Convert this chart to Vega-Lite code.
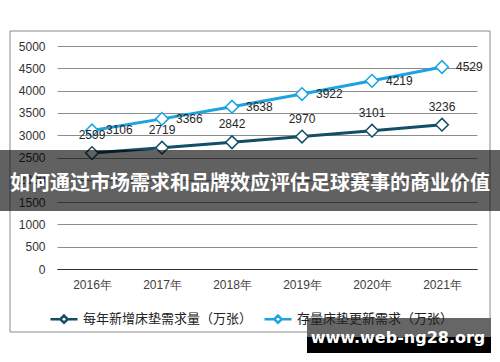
{
  "$schema": "https://vega.github.io/schema/vega-lite/v6.json",
  "width": 420,
  "height": 223,
  "autosize": {"type": "none"},
  "padding": {"left": 57, "top": 46, "right": 23, "bottom": 93},
  "background": "white",
  "config": {
    "view": {"stroke": null},
    "font": "Liberation Sans",
    "axisY": {"domain": false, "ticks": false, "gridColor": "#8c8c8c", "gridWidth": 1, "labelFontSize": 12, "labelColor": "#333333", "labelPadding": 12, "labelFont": "Liberation Sans", "title": null},
    "axisX": {"ticks": false, "domainColor": "#333333", "domainWidth": 1.2, "labelFontSize": 12, "labelColor": "#404040", "labelPadding": 10, "labelAngle": 0, "labelFont": "Liberation Sans", "title": null, "grid": false}
  },
  "datasets": {
    "series": [
      {"year": "2016年", "series": "每年新增床垫需求量（万张）", "value": 2599},
      {"year": "2017年", "series": "每年新增床垫需求量（万张）", "value": 2719},
      {"year": "2018年", "series": "每年新增床垫需求量（万张）", "value": 2842},
      {"year": "2019年", "series": "每年新增床垫需求量（万张）", "value": 2970},
      {"year": "2020年", "series": "每年新增床垫需求量（万张）", "value": 3101},
      {"year": "2021年", "series": "每年新增床垫需求量（万张）", "value": 3236},
      {"year": "2016年", "series": "存量床垫更新需求（万张）", "value": 3106},
      {"year": "2017年", "series": "存量床垫更新需求（万张）", "value": 3366},
      {"year": "2018年", "series": "存量床垫更新需求（万张）", "value": 3638},
      {"year": "2019年", "series": "存量床垫更新需求（万张）", "value": 3922},
      {"year": "2020年", "series": "存量床垫更新需求（万张）", "value": 4219},
      {"year": "2021年", "series": "存量床垫更新需求（万张）", "value": 4529}
    ],
    "one": [{"title": "如何通过市场需求和品牌效应评估足球赛事的商业价值", "mark": "www.web-ng28.org"}]
  },
  "layer": [
    {
      "data": {"name": "one"},
      "mark": {"type": "rect", "fill": null, "fillOpacity": 0, "stroke": "#8a8a8a", "strokeWidth": 1},
      "encoding": {
        "x": {"value": -47}, "x2": {"value": 433},
        "y": {"value": -15}, "y2": {"value": 286}
      }
    },
    {
      "data": {"name": "series"},
      "mark": {"type": "line", "strokeWidth": 3},
      "encoding": {
        "x": {"field": "year", "type": "ordinal", "sort": null, "scale": {"padding": 0.5}},
        "y": {
          "field": "value", "type": "quantitative",
          "scale": {"domain": [0, 5000], "nice": false},
          "axis": {"values": [0, 500, 1000, 1500, 2000, 2500, 3000, 3500, 4000, 4500, 5000], "format": "d", "labelOverlap": false}
        },
        "color": {
          "field": "series", "type": "nominal", "sort": null,
          "scale": {"domain": ["每年新增床垫需求量（万张）", "存量床垫更新需求（万张）"], "range": ["#124e66", "#1ca3e0"]},
          "legend": {
            "title": null, "orient": "none", "direction": "horizontal",
            "legendX": -8, "legendY": 258,
            "symbolType": "M-1,0L-0.27,0M0.27,0L1,0M-0.27,0L0,-0.27L0.27,0L0,0.27Z",
            "symbolSize": 729, "symbolStrokeWidth": 2.5,
            "labelFont": "Noto Sans CJK SC", "labelFontSize": 13, "labelColor": "#222222",
            "labelOffset": 4, "columnPadding": 6, "labelLimit": 300,
            "encode": {"symbols": {"update": {"fill": {"value": "white"}, "fillOpacity": {"value": 1}}}}
          }
        }
      }
    },
    {
      "data": {"name": "series"},
      "mark": {"type": "point", "shape": "diamond", "size": 160, "filled": true, "fill": "white", "strokeWidth": 1.5, "opacity": 1},
      "encoding": {
        "x": {"field": "year", "type": "ordinal", "sort": null},
        "y": {"field": "value", "type": "quantitative", "axis": {"values": [0, 500, 1000, 1500, 2000, 2500, 3000, 3500, 4000, 4500, 5000], "format": "d", "labelOverlap": false}},
        "stroke": {"field": "series", "type": "nominal", "sort": null,
          "scale": {"domain": ["每年新增床垫需求量（万张）", "存量床垫更新需求（万张）"], "range": ["#124e66", "#1ca3e0"]},
          "legend": null}
      }
    },
    {
      "data": {"name": "series"},
      "transform": [{"filter": "datum.series === '每年新增床垫需求量（万张）'"}],
      "mark": {"type": "text", "dy": -18, "fontSize": 12, "color": "#262626", "font": "Liberation Sans"},
      "encoding": {
        "x": {"field": "year", "type": "ordinal", "sort": null},
        "y": {"field": "value", "type": "quantitative", "axis": {"values": [0, 500, 1000, 1500, 2000, 2500, 3000, 3500, 4000, 4500, 5000], "format": "d", "labelOverlap": false}},
        "text": {"field": "value", "type": "quantitative", "format": "d"}
      }
    },
    {
      "data": {"name": "series"},
      "transform": [{"filter": "datum.series === '存量床垫更新需求（万张）'"}],
      "mark": {"type": "text", "dx": 14, "align": "left", "baseline": "middle", "fontSize": 12, "color": "#262626", "font": "Liberation Sans"},
      "encoding": {
        "x": {"field": "year", "type": "ordinal", "sort": null},
        "y": {"field": "value", "type": "quantitative", "axis": {"values": [0, 500, 1000, 1500, 2000, 2500, 3000, 3500, 4000, 4500, 5000], "format": "d", "labelOverlap": false}},
        "text": {"field": "value", "type": "quantitative", "format": "d"}
      }
    },
    {
      "data": {"name": "one"},
      "mark": {"type": "rect", "fill": "black", "opacity": 0.62},
      "encoding": {
        "x": {"value": -57}, "x2": {"value": 443},
        "y": {"value": 104}, "y2": {"value": 165}
      }
    },
    {
      "data": {"name": "one"},
      "mark": {"type": "text", "fontSize": 20, "fontWeight": "bold", "font": "Noto Sans CJK SC", "color": "white", "align": "center", "baseline": "middle"},
      "encoding": {
        "x": {"value": 193}, "y": {"value": 138},
        "text": {"field": "title"}
      }
    },
    {
      "data": {"name": "one"},
      "mark": {"type": "rect", "fill": "#666666"},
      "encoding": {
        "x": {"value": 250}, "x2": {"value": 434},
        "y": {"value": 272}, "y2": {"value": 291}
      }
    },
    {
      "data": {"name": "one"},
      "mark": {"type": "rect", "fill": "black"},
      "encoding": {
        "x": {"value": 250}, "x2": {"value": 434},
        "y": {"value": 291}, "y2": {"value": 307}
      }
    },
    {
      "data": {"name": "one"},
      "mark": {"type": "text", "fontSize": 16, "fontWeight": "bold", "font": "DejaVu Sans", "color": "white", "align": "center", "baseline": "middle"},
      "encoding": {
        "x": {"value": 341}, "y": {"value": 292},
        "text": {"field": "mark"}
      }
    }
  ]
}
